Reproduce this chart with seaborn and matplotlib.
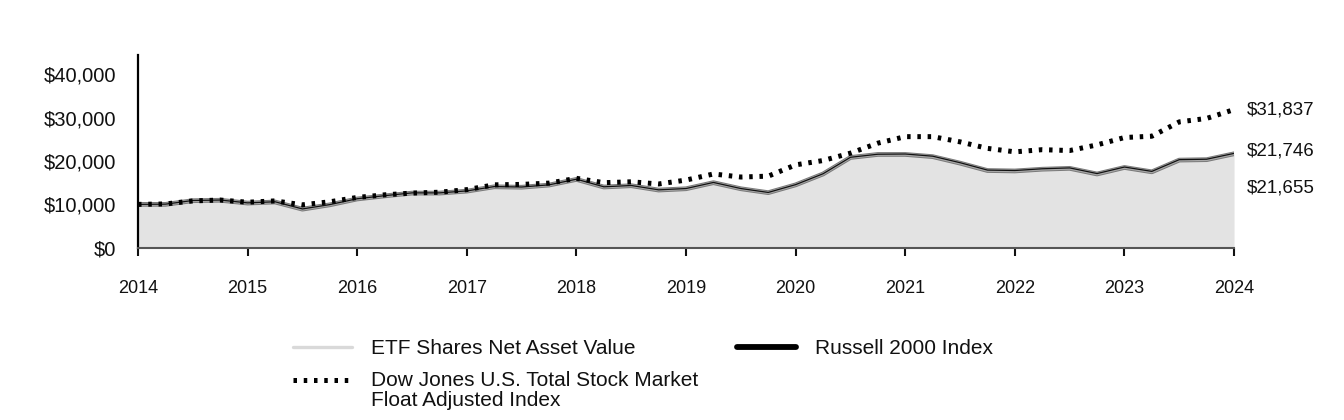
import matplotlib
matplotlib.use("Agg")
import matplotlib.pyplot as plt
from matplotlib.lines import Line2D
from matplotlib.legend_handler import HandlerLine2D
from matplotlib.ticker import FuncFormatter
import seaborn as sns
import numpy as np
import pandas as pd

sns.set_theme(style="white")
plt.rcParams['font.family'] = ['Liberation Sans', 'DejaVu Sans']

# quarterly dates 2014.00 .. 2024.00
dates = [2014 + q * 0.25 for q in range(41)]

etf = [10000, 10000, 10850, 10950, 10300, 10550, 8900, 9900, 11250, 11950,
       12600, 12600, 13050, 14050, 13950, 14450, 15750, 14000, 14300, 13300,
       13600, 15000, 13600, 12700, 14500, 17000, 20800, 21500, 21500, 21000,
       19500, 17800, 17700, 18100, 18300, 17000, 18500, 17500, 20200, 20300,
       21655]
russell = [10000, 10050, 10900, 11000, 10350, 10600, 8950, 9950, 11300, 12000,
           12650, 12650, 13100, 14100, 14000, 14500, 15800, 14050, 14350, 13350,
           13650, 15050, 13650, 12750, 14550, 17050, 20850, 21550, 21600, 21100,
           19600, 17900, 17800, 18200, 18400, 17100, 18600, 17600, 20300, 20400,
           21746]
dow = [10000, 10100, 10800, 11000, 10500, 10800, 9900, 10600, 11600, 12200,
       12600, 12800, 13400, 14500, 14600, 14900, 16000, 15000, 15200, 14700,
       15600, 17000, 16300, 16500, 19100, 20100, 21800, 24100, 25600, 25600,
       24400, 22900, 22100, 22600, 22400, 23700, 25400, 25700, 29000, 29800,
       31837]

labels = ["ETF Shares Net Asset Value", "Russell 2000 Index",
          "Dow Jones U.S. Total Stock Market\nFloat Adjusted Index"]
end_labels = ["$31,837", "$21,746", "$21,655"]
year_ticks = list(range(2014, 2025))
y_ticks = [0, 10000, 20000, 30000, 40000]

df = pd.DataFrame({"date": dates, "etf": etf, "russell": russell, "dow": dow})

fig = plt.figure(figsize=(13.44, 4.2), dpi=100)
ax = fig.add_axes([0.1027, 0.41, 0.8155, 0.459])

dots = (0, (0.7, 1.35))
ax.fill_between(df["date"], 0, df["etf"], color="#e3e3e3", lw=0, zorder=1)
sns.lineplot(data=df, x="date", y="etf", ax=ax, color="#7a7a7a", lw=3.4, zorder=2)
sns.lineplot(data=df, x="date", y="etf", ax=ax, color="#a8a8a8", lw=2.0, zorder=3)
sns.lineplot(data=df, x="date", y="russell", ax=ax, color="#111111", lw=0.9, zorder=4)
sns.lineplot(data=df, x="date", y="dow", ax=ax, color="black", lw=3.6,
             linestyle=dots, zorder=5)

ax.set_xlim(2014, 2024)
ax.set_ylim(0, 44400)
ax.set_xticks(year_ticks)
ax.set_xticklabels([str(y) for y in year_ticks], fontsize=13)
ax.set_yticks(y_ticks)
ax.yaxis.set_major_formatter(FuncFormatter(lambda v, p: "${:,.0f}".format(v)))
ax.tick_params(axis="y", labelsize=14.5, length=0, pad=16, colors="#111111")
ax.tick_params(axis="x", length=6, width=1.5, direction="out", pad=17,
               colors="#111111", bottom=True)
ax.set_xlabel("")
ax.set_ylabel("")
for s in ["top", "right"]:
    ax.spines[s].set_visible(False)
ax.spines["left"].set_color("black")
ax.spines["left"].set_linewidth(1.6)
ax.spines["bottom"].set_color("#555555")
ax.spines["bottom"].set_linewidth(1.5)

# end labels
for txt, yv in zip(end_labels, [31837, 22400, 13700]):
    ax.annotate(txt, xy=(2024, yv), xytext=(9, 0), textcoords="offset points",
                va="center", ha="left", fontsize=13.5, color="#111111",
                annotation_clip=False)


class TopAlignedLine(HandlerLine2D):
    def __init__(self, shift, **kw):
        super().__init__(**kw)
        self.shift = shift

    def create_artists(self, legend, orig_handle, xdescent, ydescent,
                       width, height, fontsize, trans):
        arts = super().create_artists(legend, orig_handle, xdescent, ydescent,
                                      width, height, fontsize, trans)
        for a in arts:
            a.set_ydata([y + self.shift for y in a.get_ydata()])
        return arts


handles = [
    Line2D([], [], color="#d9d9d9", lw=2.4),
    Line2D([], [], color="black", lw=3.6, linestyle=dots),
    Line2D([], [], color="black", lw=4.2),
]
leg = fig.legend(handles, [labels[0], labels[2], labels[1]], ncol=2,
                 loc="upper left", bbox_to_anchor=(293 / 1344, 1 - 339 / 420),
                 frameon=False, borderpad=0, borderaxespad=0,
                 fontsize=15, handlelength=2.85, handletextpad=0.9,
                 columnspacing=1.85, labelspacing=0.62,
                 handler_map={handles[1]: TopAlignedLine(shift=7.5)})
for t in leg.get_texts():
    t.set_color("#111111")
    t.set_linespacing(1.1)

fig.savefig("out.png", dpi=100)
